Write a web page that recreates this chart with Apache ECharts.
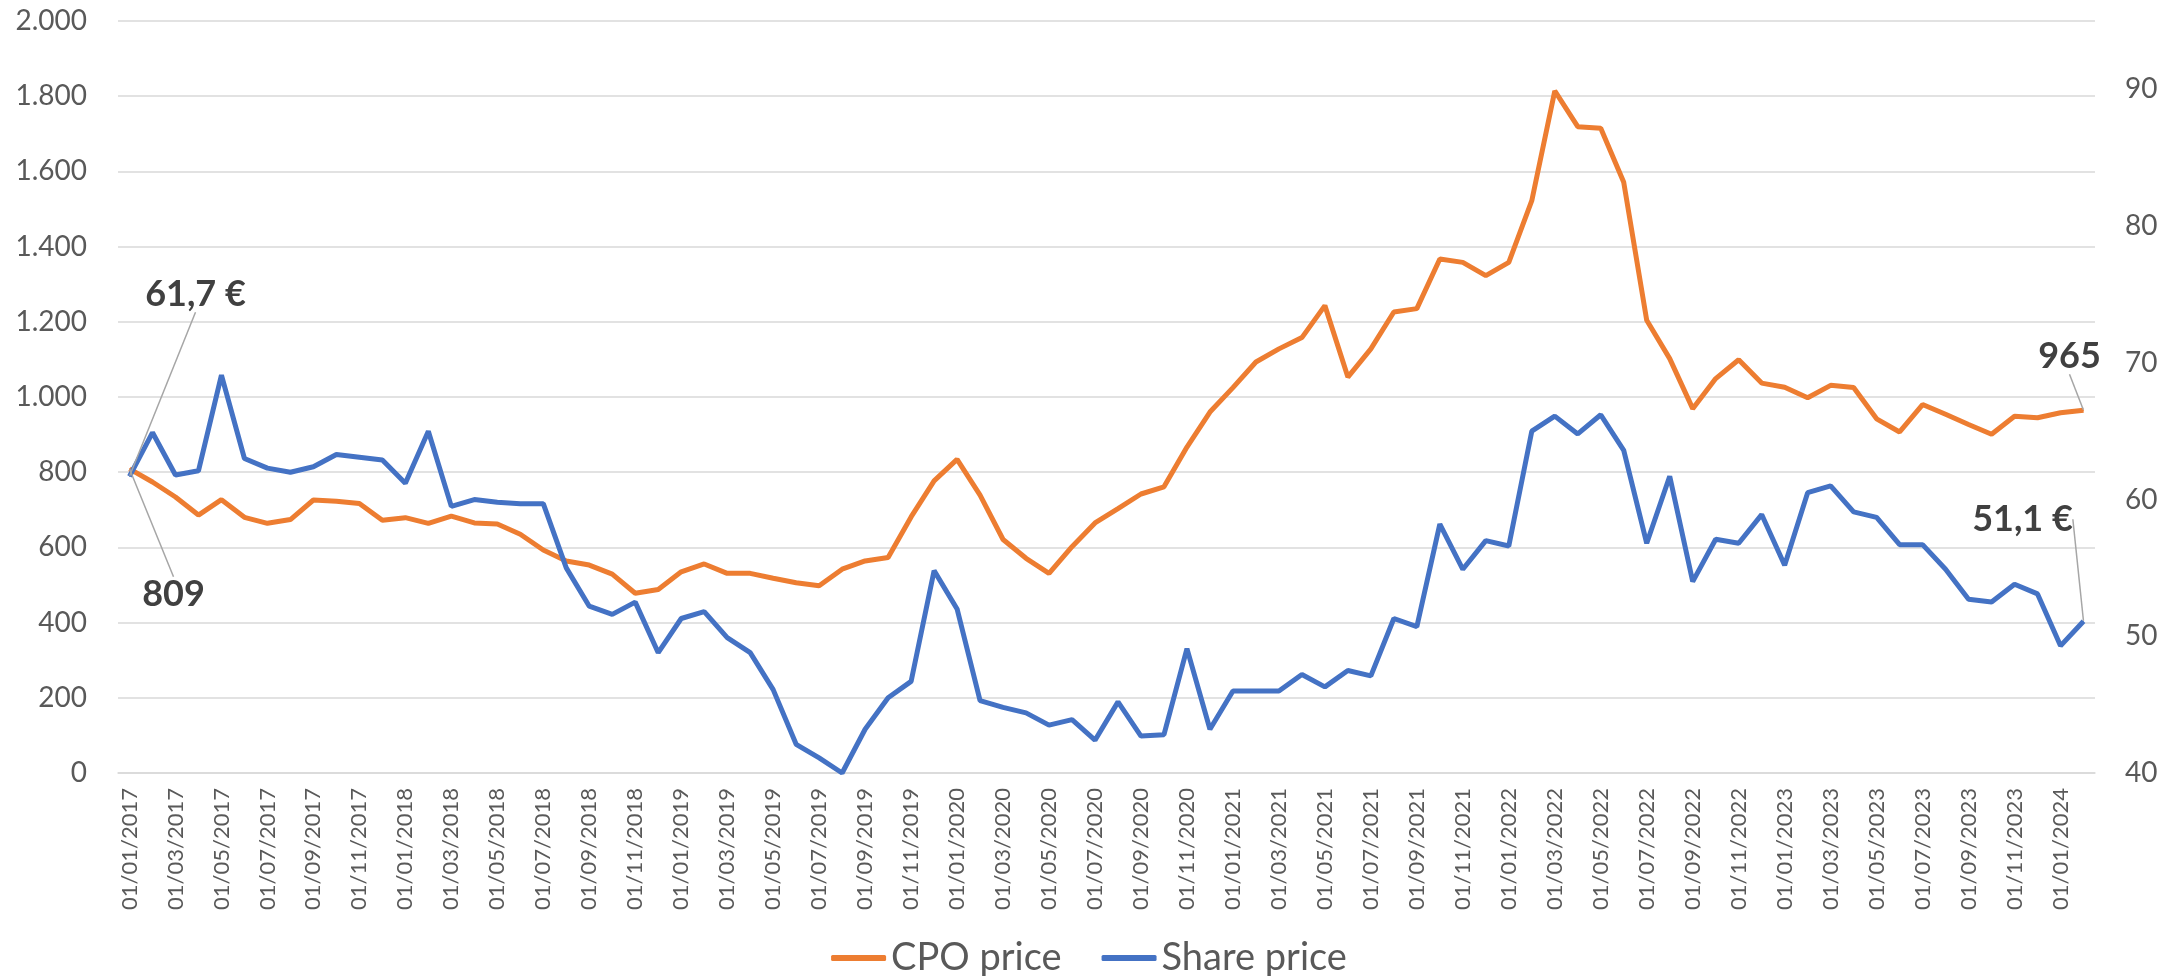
<!DOCTYPE html>
<html>
<head>
<meta charset="utf-8">
<script src="https://cdn.jsdelivr.net/npm/echarts@6/dist/echarts.min.js"></script>
<style>
  html, body { margin: 0; padding: 0; background: #fff; }
  #chart { width: 2178px; height: 976px; }
</style>
</head>
<body>
<div id="chart"></div>
<script>
// monthly points, 01/01/2017 .. 01/02/2024
var months = [];
for (var yr = 2017; yr <= 2024; yr++) {
  for (var mo = 1; mo <= 12; mo++) {
    if (months.length < 86) months.push('01/' + (mo < 10 ? '0' + mo : mo) + '/' + yr);
  }
}

var cpoPrice = [
  809, 774, 734, 686, 727, 680, 664, 674, 726, 723, 717, 672,
  679, 664, 683, 665, 662, 635, 593, 564, 553, 529, 478, 488,
  535, 556, 531, 531, 518, 506, 498, 542, 564, 573, 681, 777,
  834, 739, 621, 571, 531, 602, 665, 703, 742, 761, 867, 960,
  1025, 1093, 1128, 1158, 1243, 1053, 1128, 1226, 1235, 1367, 1358, 1323,
  1358, 1522, 1814, 1719, 1715, 1571, 1204, 1102, 969, 1049, 1099, 1037,
  1026, 998, 1031, 1025, 942, 907, 980, 954, 927, 901, 949, 945,
  958, 965
];

var sharePrice = [
  61.7, 64.9, 61.8, 62.1, 69.1, 63.0, 62.3, 62.0, 62.4, 63.3, 63.1, 62.9,
  61.2, 65.0, 59.5, 60.0, 59.8, 59.7, 59.7, 55.0, 52.2, 51.6, 52.5, 48.8,
  51.3, 51.8, 49.9, 48.8, 46.1, 42.1, 41.1, 40.0, 43.2, 45.5, 46.7, 54.8,
  52.0, 45.3, 44.8, 44.4, 43.5, 43.9, 42.4, 45.2, 42.7, 42.8, 49.1, 43.2,
  46.0, 46.0, 46.0, 47.2, 46.3, 47.5, 47.1, 51.3, 50.7, 58.2, 54.9, 57.0,
  56.6, 65.0, 66.1, 64.8, 66.2, 63.6, 56.8, 61.7, 54.0, 57.1, 56.8, 58.9,
  55.2, 60.5, 61.0, 59.1, 58.7, 56.7, 56.7, 54.9, 52.7, 52.5, 53.8, 53.1,
  49.3, 51.1
];

var leftTicks = { min: 0, max: 2000, step: 200 };
var rightTicks = { min: 40, max: 95, step: 10 };

// label offsets [first, last] per series, in px from the point
var labelShift = [
  [[44, 126], [-14, -54]],
  [[66, -182], [-61, -102]]
];

function endLabels(vals, fmt) {
  return vals.map(function (v, i) {
    if (i !== 0 && i !== vals.length - 1) return v;
    return {
      value: v,
      symbol: 'circle',
      symbolSize: 1,
      label: { show: true, formatter: fmt }
    };
  });
}

function thousands(v) {
  return String(v).replace(/\B(?=(\d{3})+(?!\d))/g, '.');
}

var chart = echarts.init(document.getElementById('chart'));

var labelStyle = {
  position: 'inside',
  fontFamily: 'Lato',
  fontWeight: 'bold',
  fontSize: 36,
  color: '#404040'
};
var guide = { show: true, lineStyle: { color: '#a6a6a6', width: 1.5 } };

chart.setOption({
  animation: false,
  textStyle: { fontFamily: 'Lato' },
  grid: { left: 118, right: 83, top: 21, bottom: 203 },
  legend: {
    top: 934,
    left: 'center',
    icon: 'roundRect',
    itemWidth: 55,
    itemHeight: 6,
    itemGap: 40,
    textStyle: { fontSize: 38, color: '#595959' },
    data: ['CPO price', 'Share price']
  },
  xAxis: {
    type: 'category',
    data: months,
    axisLine: { lineStyle: { color: '#d9d9d9', width: 1.5 } },
    axisTick: { interval: 1, length: 7, lineStyle: { color: '#d9d9d9', width: 1.5 } },
    axisLabel: { interval: 1, rotate: 90, margin: 15, fontSize: 22, color: '#595959' }
  },
  yAxis: [{
    type: 'value',
    min: leftTicks.min,
    max: leftTicks.max,
    interval: leftTicks.step,
    axisLine: { show: false },
    axisTick: { show: false },
    axisLabel: { margin: 31, fontSize: 28, color: '#595959', formatter: thousands },
    splitLine: { lineStyle: { color: '#d9d9d9', width: 1.5 } }
  }, {
    type: 'value',
    min: rightTicks.min,
    max: rightTicks.max,
    interval: rightTicks.step,
    axisLine: { show: false },
    axisTick: { show: false },
    axisLabel: { margin: 30, fontSize: 28, color: '#595959', showMaxLabel: false },
    splitLine: { show: false }
  }],
  series: [{
    name: 'CPO price',
    type: 'line',
    yAxisIndex: 0,
    symbol: 'none',
    data: endLabels(cpoPrice, function (p) { return thousands(p.value); }),
    lineStyle: { color: '#ED7D31', width: 5 },
    itemStyle: { color: '#ED7D31' },
    label: labelStyle,
    labelLine: guide,
    labelLayout: function (p) {
      var o = labelShift[0][p.dataIndex === 0 ? 0 : 1];
      return { dx: o[0], dy: o[1] };
    }
  }, {
    name: 'Share price',
    type: 'line',
    yAxisIndex: 1,
    symbol: 'none',
    data: endLabels(sharePrice, function (p) { return p.value.toFixed(1).replace('.', ',') + ' €'; }),
    lineStyle: { color: '#4472C4', width: 5 },
    itemStyle: { color: '#4472C4' },
    label: labelStyle,
    labelLine: guide,
    labelLayout: function (p) {
      var o = labelShift[1][p.dataIndex === 0 ? 0 : 1];
      return { dx: o[0], dy: o[1] };
    }
  }]
});
</script>
</body>
</html>
